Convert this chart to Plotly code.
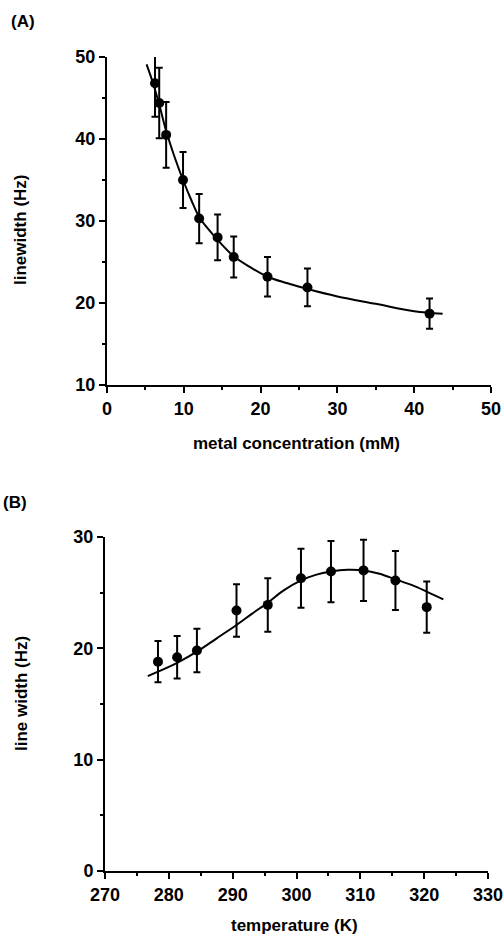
import plotly.graph_objects as go

W, H = 504, 940

# ---- Panel A data: metal concentration vs linewidth ----
conc_mM = [6.25, 6.8, 7.7, 9.9, 12.0, 14.4, 16.5, 20.9, 26.1, 42.0]
linewidth_hz = [46.8, 44.4, 40.5, 35.0, 30.3, 28.0, 25.6, 23.2, 21.9, 18.7]
linewidth_err = [4.1, 4.3, 4.0, 3.4, 3.0, 2.8, 2.5, 2.4, 2.3, 1.85]

fit_a_x = [5.15, 6.0, 6.8, 7.7, 8.8, 9.9, 11.0, 12.0, 13.2, 14.4, 16.5, 18.6,
           20.9, 23.5, 26.1, 30.0, 35.0, 40.0, 43.7]
fit_a_y = [49.1, 46.8, 44.2, 41.0, 37.8, 35.0, 32.5, 30.5, 29.0, 27.7, 25.7, 24.4,
           23.2, 22.4, 21.7, 20.8, 19.9, 19.0, 18.7]

# ---- Panel B data: temperature vs line width ----
temp_K = [278.3, 281.3, 284.4, 290.6, 295.5, 300.7, 305.4, 310.5, 315.5, 320.4]
linew_b = [18.8, 19.2, 19.8, 23.4, 23.9, 26.3, 26.9, 27.0, 26.1, 23.7]
linew_b_err = [1.85, 1.9, 1.95, 2.35, 2.4, 2.65, 2.75, 2.75, 2.65, 2.3]

fit_b_x = [276.7, 278.3, 281.3, 284.4, 287.5, 290.6, 293.0, 295.5, 298.0, 300.7,
           303.0, 305.4, 308.0, 310.5, 313.0, 315.5, 318.0, 320.4, 323.0]
fit_b_y = [17.5, 17.9, 18.7, 19.7, 20.9, 22.1, 23.1, 24.1, 25.2, 26.1,
           26.6, 26.9, 27.05, 27.0, 26.7, 26.2, 25.7, 25.1, 24.4]

x_ticks_a = [0, 10, 20, 30, 40, 50]
y_ticks_a = [10, 20, 30, 40, 50]
x_ticks_b = [270, 280, 290, 300, 310, 320, 330]
y_ticks_b = [0, 10, 20, 30]

FONT = "Liberation Sans, Arial, sans-serif"

def px(x):
    return x / W

def py(y):
    return 1 - y / H

fig = go.Figure()

# Panel A
fig.add_trace(go.Scatter(x=fit_a_x, y=fit_a_y, mode="lines",
                         line=dict(color="black", width=2, shape="spline"),
                         xaxis="x", yaxis="y", showlegend=False))
fig.add_trace(go.Scatter(x=conc_mM, y=linewidth_hz, mode="markers",
                         marker=dict(color="black", size=10),
                         error_y=dict(type="data", array=linewidth_err, visible=True,
                                      color="black", thickness=2, width=3.5),
                         xaxis="x", yaxis="y", showlegend=False))

# Panel B
fig.add_trace(go.Scatter(x=fit_b_x, y=fit_b_y, mode="lines",
                         line=dict(color="black", width=2, shape="spline"),
                         xaxis="x2", yaxis="y2", showlegend=False))
fig.add_trace(go.Scatter(x=temp_K, y=linew_b, mode="markers",
                         marker=dict(color="black", size=10),
                         error_y=dict(type="data", array=linew_b_err, visible=True,
                                      color="black", thickness=2, width=3.5),
                         xaxis="x2", yaxis="y2", showlegend=False))

axis_common = dict(showgrid=False, zeroline=False, showline=True, linecolor="black",
                   linewidth=2, ticks="outside", ticklen=6, tickwidth=2, tickcolor="black",
                   tickfont=dict(family=FONT, size=18, color="black", weight="bold"),
                   minor=dict(ticks="outside", ticklen=3, tickwidth=1.5, tickcolor="black"))

fig.update_layout(
    width=W, height=H,
    margin=dict(l=0, r=0, t=0, b=0, pad=0, autoexpand=False),
    paper_bgcolor="white", plot_bgcolor="white",
    xaxis=dict(domain=[px(107), px(491)], range=[0, 50], tickvals=x_ticks_a,
               anchor="y", **axis_common),
    yaxis=dict(domain=[py(385), py(57)], range=[10, 50], tickvals=y_ticks_a,
               anchor="x", **axis_common),
    xaxis2=dict(domain=[px(105), px(488)], range=[270, 330], tickvals=x_ticks_b,
                anchor="y2", **axis_common),
    yaxis2=dict(domain=[py(871), py(537)], range=[0, 30], tickvals=y_ticks_b,
                anchor="x2", **axis_common),
)
fig.update_xaxes(minor_dtick=5)
fig.update_yaxes(minor_dtick=5)

tfont = dict(family=FONT, size=17, color="black", weight="bold")
annos = [
    dict(text="(A)", x=px(9), y=py(22), xanchor="left", yanchor="middle"),
    dict(text="(B)", x=px(1), y=py(502), xanchor="left", yanchor="middle"),
    dict(text="metal concentration (mM)", x=px(296), y=py(443), xanchor="center", yanchor="middle"),
    dict(text="temperature (K)", x=px(294), y=py(925), xanchor="center", yanchor="middle"),
    dict(text="linewidth (Hz)", x=px(21), y=py(230), xanchor="center", yanchor="middle", textangle=-90),
    dict(text="line width (Hz)", x=px(21), y=py(694), xanchor="center", yanchor="middle", textangle=-90),
]
for a in annos:
    fig.add_annotation(xref="paper", yref="paper", showarrow=False, font=tfont, **a)

fig.write_html("out.html",
               config={"displayModeBar": False},
               post_script="document.body.style.margin='0';document.body.style.overflow='hidden';")
